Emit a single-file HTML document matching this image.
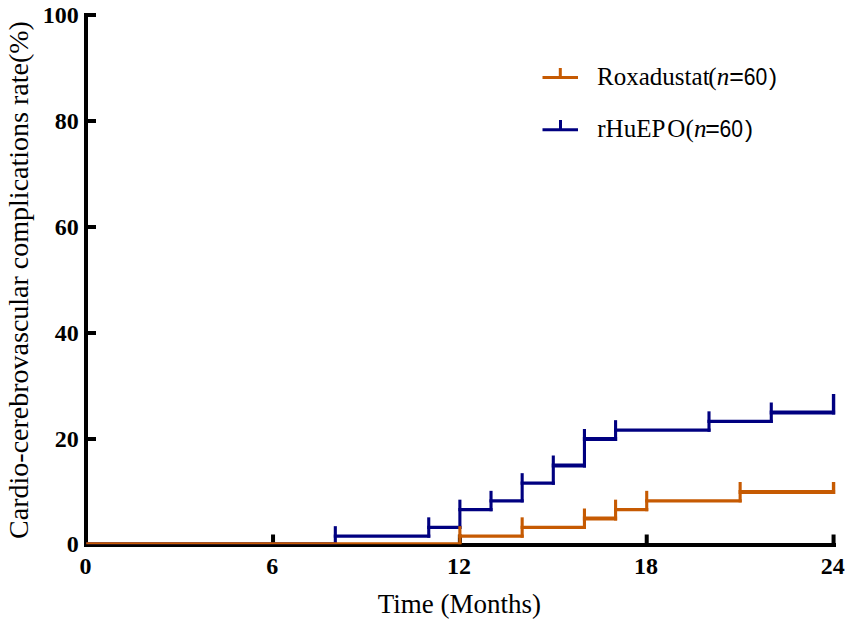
<!DOCTYPE html>
<html><head><meta charset="utf-8"><style>
html,body{margin:0;padding:0;background:#fff;}
body{width:851px;height:626px;overflow:hidden;}
svg{display:block;}
.tl{font-family:"Liberation Serif",serif;font-weight:bold;font-size:24px;fill:#000;}
.tt{font-family:"Liberation Serif",serif;fill:#000;}
.lg{font-family:"Liberation Serif",serif;font-size:25px;fill:#000;}
.lgs{font-family:"Liberation Sans",sans-serif;fill:#000;}
.sn{font-family:"Liberation Sans",sans-serif;}
</style></head><body>
<svg width="851" height="626" viewBox="0 0 851 626">
<rect x="84" y="13" width="4" height="534" fill="#000"/>
<rect x="84" y="543" width="752" height="4" fill="#000"/>
<rect x="88" y="13.00" width="8" height="4" fill="#000"/>
<text x="78.8" y="22.80" text-anchor="end" class="tl">100</text>
<rect x="88" y="119.00" width="8" height="4" fill="#000"/>
<text x="78.8" y="128.80" text-anchor="end" class="tl">80</text>
<rect x="88" y="225.00" width="8" height="4" fill="#000"/>
<text x="78.8" y="234.80" text-anchor="end" class="tl">60</text>
<rect x="88" y="331.00" width="8" height="4" fill="#000"/>
<text x="78.8" y="340.80" text-anchor="end" class="tl">40</text>
<rect x="88" y="437.00" width="8" height="4" fill="#000"/>
<text x="78.8" y="446.80" text-anchor="end" class="tl">20</text>
<text x="78.8" y="551.90" text-anchor="end" class="tl">0</text>
<rect x="271.04" y="534.5" width="4" height="9" fill="#000"/>
<rect x="457.88" y="534.5" width="4" height="9" fill="#000"/>
<rect x="644.72" y="534.5" width="4" height="9" fill="#000"/>
<rect x="831.56" y="534.5" width="4" height="9" fill="#000"/>
<text x="85.40" y="574" text-anchor="middle" class="tl">0</text>
<text x="272.24" y="574" text-anchor="middle" class="tl">6</text>
<text x="459.08" y="574" text-anchor="middle" class="tl">12</text>
<text x="645.92" y="574" text-anchor="middle" class="tl">18</text>
<text x="832.76" y="574" text-anchor="middle" class="tl">24</text>
<line x1="86.20" y1="543.20" x2="336.87" y2="543.20" stroke="#000080" stroke-width="2"/>
<line x1="333.77" y1="536.17" x2="430.29" y2="536.17" stroke="#000080" stroke-width="3.1"/>
<line x1="335.32" y1="544.20" x2="335.32" y2="526.17" stroke="#000080" stroke-width="3.1"/>
<line x1="427.19" y1="527.33" x2="461.43" y2="527.33" stroke="#000080" stroke-width="3.1"/>
<line x1="428.74" y1="537.72" x2="428.74" y2="517.33" stroke="#000080" stroke-width="3.1"/>
<line x1="458.33" y1="509.67" x2="492.57" y2="509.67" stroke="#000080" stroke-width="3.1"/>
<line x1="459.88" y1="528.88" x2="459.88" y2="499.67" stroke="#000080" stroke-width="3.1"/>
<line x1="489.47" y1="500.83" x2="523.71" y2="500.83" stroke="#000080" stroke-width="3.1"/>
<line x1="491.02" y1="511.22" x2="491.02" y2="490.83" stroke="#000080" stroke-width="3.1"/>
<line x1="520.61" y1="483.17" x2="554.85" y2="483.17" stroke="#000080" stroke-width="3.3"/>
<line x1="522.16" y1="502.38" x2="522.16" y2="473.17" stroke="#000080" stroke-width="3.1"/>
<line x1="551.75" y1="465.50" x2="585.99" y2="465.50" stroke="#000080" stroke-width="4.0"/>
<line x1="553.30" y1="484.82" x2="553.30" y2="455.50" stroke="#000080" stroke-width="3.1"/>
<line x1="582.89" y1="439.00" x2="617.13" y2="439.00" stroke="#000080" stroke-width="4.0"/>
<line x1="584.44" y1="467.50" x2="584.44" y2="429.00" stroke="#000080" stroke-width="3.1"/>
<line x1="614.03" y1="430.17" x2="710.55" y2="430.17" stroke="#000080" stroke-width="3.3"/>
<line x1="615.58" y1="441.00" x2="615.58" y2="420.17" stroke="#000080" stroke-width="3.1"/>
<line x1="707.45" y1="421.33" x2="772.83" y2="421.33" stroke="#000080" stroke-width="3.1"/>
<line x1="709.00" y1="431.82" x2="709.00" y2="411.33" stroke="#000080" stroke-width="3.1"/>
<line x1="769.73" y1="412.50" x2="835.11" y2="412.50" stroke="#000080" stroke-width="4.0"/>
<line x1="771.28" y1="422.88" x2="771.28" y2="402.50" stroke="#000080" stroke-width="3.1"/>
<line x1="833.56" y1="414.50" x2="833.56" y2="394.00" stroke="#000080" stroke-width="3.4"/>
<line x1="86.20" y1="543.20" x2="461.43" y2="543.20" stroke="#C65A02" stroke-width="2"/>
<line x1="458.33" y1="536.17" x2="523.71" y2="536.17" stroke="#C65A02" stroke-width="3.1"/>
<line x1="459.88" y1="544.20" x2="459.88" y2="526.17" stroke="#C65A02" stroke-width="3.1"/>
<line x1="520.61" y1="527.33" x2="585.99" y2="527.33" stroke="#C65A02" stroke-width="3.1"/>
<line x1="522.16" y1="537.72" x2="522.16" y2="517.33" stroke="#C65A02" stroke-width="3.1"/>
<line x1="582.89" y1="518.50" x2="617.13" y2="518.50" stroke="#C65A02" stroke-width="4.0"/>
<line x1="584.44" y1="528.88" x2="584.44" y2="508.50" stroke="#C65A02" stroke-width="3.1"/>
<line x1="614.03" y1="509.67" x2="648.27" y2="509.67" stroke="#C65A02" stroke-width="3.1"/>
<line x1="615.58" y1="520.50" x2="615.58" y2="499.67" stroke="#C65A02" stroke-width="3.1"/>
<line x1="645.17" y1="500.83" x2="741.69" y2="500.83" stroke="#C65A02" stroke-width="3.1"/>
<line x1="646.72" y1="511.22" x2="646.72" y2="490.83" stroke="#C65A02" stroke-width="3.1"/>
<line x1="738.59" y1="492.00" x2="835.11" y2="492.00" stroke="#C65A02" stroke-width="4.0"/>
<line x1="740.14" y1="502.38" x2="740.14" y2="482.00" stroke="#C65A02" stroke-width="3.1"/>
<line x1="833.56" y1="494.00" x2="833.56" y2="482.00" stroke="#C65A02" stroke-width="3.4"/>
<text x="459.4" y="612.8" text-anchor="middle" class="tt" style="font-size:27px">Time (Months)</text>
<text transform="translate(27.5 280) rotate(-90)" x="0" y="0" text-anchor="middle" class="tt" style="font-size:28px">Cardio-cerebrovascular complications rate(%)</text>
<line x1="542.5" y1="77.5" x2="578" y2="77.5" stroke="#C65A02" stroke-width="3"/>
<line x1="560.3" y1="77.5" x2="560.3" y2="68" stroke="#C65A02" stroke-width="3"/>
<line x1="542.5" y1="129.7" x2="578" y2="129.7" stroke="#000080" stroke-width="3"/>
<line x1="560.5" y1="129.7" x2="560.5" y2="120" stroke="#000080" stroke-width="3"/>
<text y="84.6" class="lg"><tspan x="597.1">Roxadustat</tspan><tspan x="708.3">(</tspan><tspan font-style="italic">n</tspan></text>
<text x="729.30" y="84.6" class="lgs" style="font-size:25px">=</text>
<text transform="translate(743.70 84.6) scale(0.92 1)" class="lgs" style="font-size:23px">60</text>
<text x="769.00" y="84.6" class="lgs" style="font-size:24px">)</text>
<text y="137.2" class="lg"><tspan x="597.3">rHuEP</tspan><tspan dx="1.8">O</tspan><tspan x="685.6">(</tspan><tspan font-style="italic">n</tspan></text>
<text x="705.20" y="137.2" class="lgs" style="font-size:25px">=</text>
<text transform="translate(719.60 137.2) scale(0.92 1)" class="lgs" style="font-size:23px">60</text>
<text x="744.90" y="137.2" class="lgs" style="font-size:24px">)</text>
</svg>
</body></html>
